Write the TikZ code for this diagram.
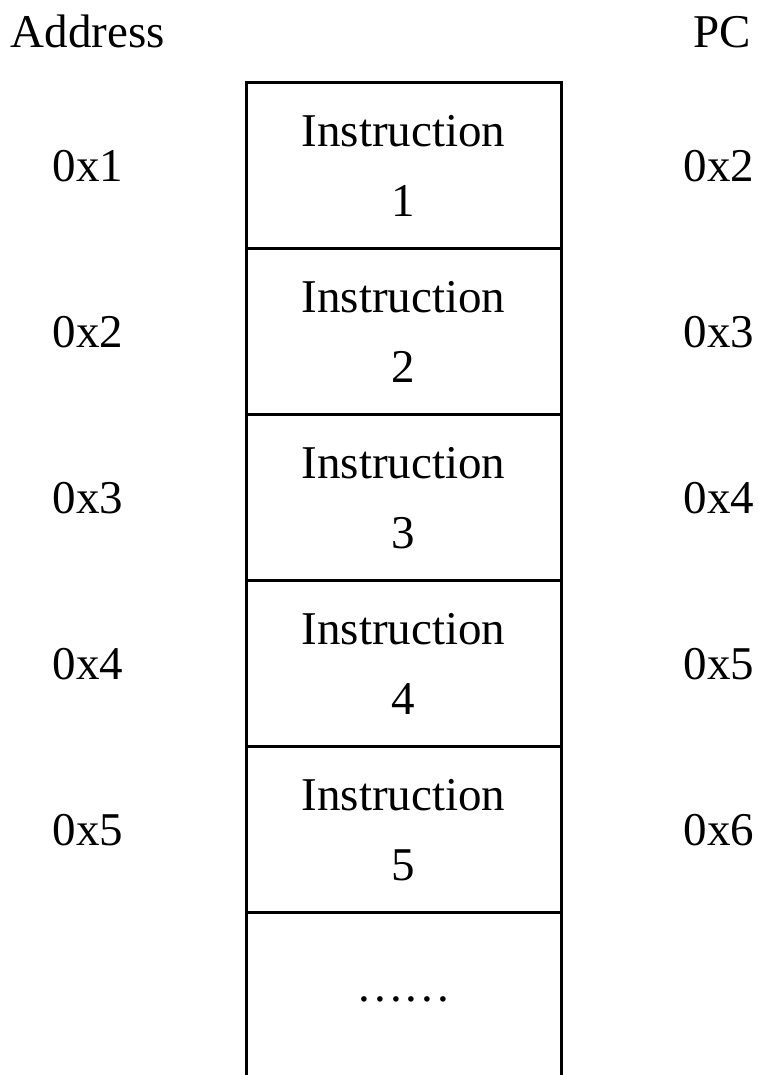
\documentclass[tikz,border=0pt]{standalone}
\usepackage{fontspec}
\setmainfont{Liberation Serif}
\begin{document}
\begin{tikzpicture}[x=1pt,y=-1pt,
  lbl/.style={font=\fontsize{47}{56}\selectfont, inner sep=0pt, anchor=base},
  cell/.style={draw, line width=3pt, minimum width=315pt, minimum height=165.8pt, inner sep=0pt, outer sep=0pt, anchor=north west}]
\useasboundingbox (0,0) rectangle (758,1075);
\node[lbl] (haddr) at (88,48) {Address};
\node[lbl] (hpc) at (722,48) {PC};
\foreach \i in {1,...,5}{
  \pgfmathsetmacro{\top}{83+(\i-1)*165.8}
  \node[cell] (c\i) at (246,\top) {};
  \node[lbl] (ins\i) at (403.5,\top+64) {Instruction};
  \node[lbl] (num\i) at (403.5,\top+134) {\i};
  \node[lbl] (a\i) at (88,\top+99) {0x\i};
  \pgfmathtruncatemacro{\nx}{\i+1}
  \node[lbl] (p\i) at (719,\top+99) {0x\nx};
}
\coordinate (bl) at (c5.south west |- 0,1076);
\coordinate (br) at (c5.south east |- 0,1076);
\draw[line width=3pt] (c5.south west) -- (bl);
\draw[line width=3pt] (c5.south east) -- (br);
\node[lbl] (dots) at (404,1001) {.\kern4pt.\kern4pt.\kern4pt.\kern4pt.\kern4pt.};
\end{tikzpicture}
\end{document}
